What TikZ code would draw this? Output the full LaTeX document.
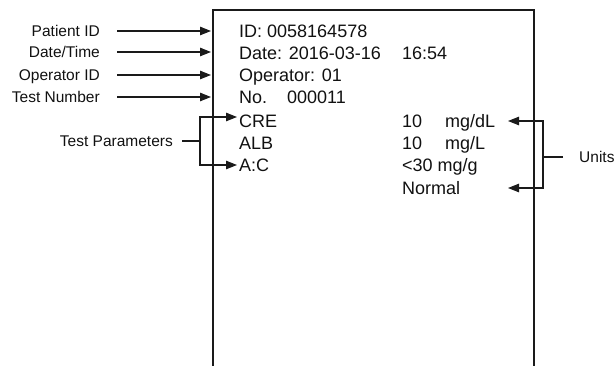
\documentclass[tikz,border=0pt]{standalone}
\usepackage{fontspec}
\setmainfont{Liberation Sans}
\usetikzlibrary{arrows.meta, calc, positioning}
\definecolor{lineDark}{HTML}{1a1a1a}
\definecolor{textDark}{HTML}{111111}

\begin{document}
\begin{tikzpicture}[x=1pt, y=-1pt,
  % Node styles
  labelLeft/.style={
    anchor=east, inner sep=0pt, text=textDark,
    font=\fontsize{15.5}{17}\selectfont,
    text height=11pt, text depth=0pt
  },
  screenText/.style={
    anchor=west, inner sep=0pt, text=textDark,
    font=\fontsize{18}{20}\selectfont,
    text height=12.8pt, text depth=0pt
  },
  % Line styles
  pointer/.style={
    -{Triangle[length=11pt, width=8.5pt]}, line width=1.1pt, draw=lineDark
  },
  bracket/.style={
    line width=1.1pt, draw=lineDark
  }
]
\useasboundingbox (0,0) rectangle (615,366);

% --- Screen outline (open at the bottom) ---
\coordinate (scrBL) at (213,366);
\coordinate (scrTL) at (213,10);
\coordinate (scrTR) at (534,10);
\coordinate (scrBR) at (534,366);
\draw[line width=1.6pt, draw=lineDark] (scrBL) -- (scrTL) -- (scrTR) -- (scrBR);

% --- Screen text ---
\node[screenText] (idLine)   at (239,31)  {ID: 0058164578};
\node[screenText] (dateLine) at (239,53)  {Date: 2016-03-16};
\node[screenText] (timeLine) at (402,53)  {16:54};
\node[screenText] (opLine)   at (239,75)  {Operator: 01};
\node[screenText] (noLine)   at (239,97)  {No.};
\node[screenText] (noValue)  at (287,97)  {000011};
\node[screenText] (creLine)  at (239,121) {CRE};
\node[screenText] (albLine)  at (239,143) {ALB};
\node[screenText] (acLine)   at (239,165) {A:C};
\node[screenText] (creVal)   at (402,121) {10};
\node[screenText] (creUnit)  at (445,121) {mg/dL};
\node[screenText] (albVal)   at (402,143) {10};
\node[screenText] (albUnit)  at (445,143) {mg/L};
\node[screenText] (acVal)    at (402,165) {<30 mg/g};
\node[screenText] (acNote)   at (402,188) {Normal};

% --- Labels on the left ---
\node[labelLeft] (pidLabel)  at (100,31) {Patient ID};
\node[labelLeft] (dateLabel) at (100,52) {Date/Time};
\node[labelLeft] (opLabel)   at (100,75) {Operator ID};
\node[labelLeft] (noLabel)   at (100,97) {Test Number};
\node[labelLeft] (paramLabel) at (173,141) {Test Parameters};

% --- Label on the right ---
\node[labelLeft, anchor=west] (unitsLabel) at (579,157) {Units};

% --- Arrows into the screen ---
\draw[pointer] ([xshift=17pt]pidLabel.east)  -- ([xshift=-2pt]pidLabel.east -| scrTL);
\draw[pointer] ([xshift=17pt]dateLabel.east) -- ([xshift=-2pt]dateLabel.east -| scrTL);
\draw[pointer] ([xshift=17pt]opLabel.east)   -- ([xshift=-2pt]opLabel.east -| scrTL);
\draw[pointer] ([xshift=17pt]noLabel.east)   -- ([xshift=-2pt]noLabel.east -| scrTL);

% --- Bracket for the test parameters ---
\coordinate (paramBar) at (200,141);
\draw[bracket] ([xshift=9pt]paramLabel.east) -- (paramBar);
\draw[pointer] (paramBar) |- ([xshift=-2pt, yshift=4pt]creLine.west);
\draw[pointer] (paramBar) |- ([xshift=-2pt]acLine.west);

% --- Bracket for the units ---
\coordinate (unitsBar) at (543,157);
\coordinate (unitTip) at (508,121);
\draw[bracket] ([xshift=-16pt]unitsLabel.west) -- (unitsBar);
\draw[pointer] (unitsBar) |- (unitTip);
\draw[pointer] (unitsBar) |- (unitTip |- acNote.east);

\end{tikzpicture}
\end{document}
